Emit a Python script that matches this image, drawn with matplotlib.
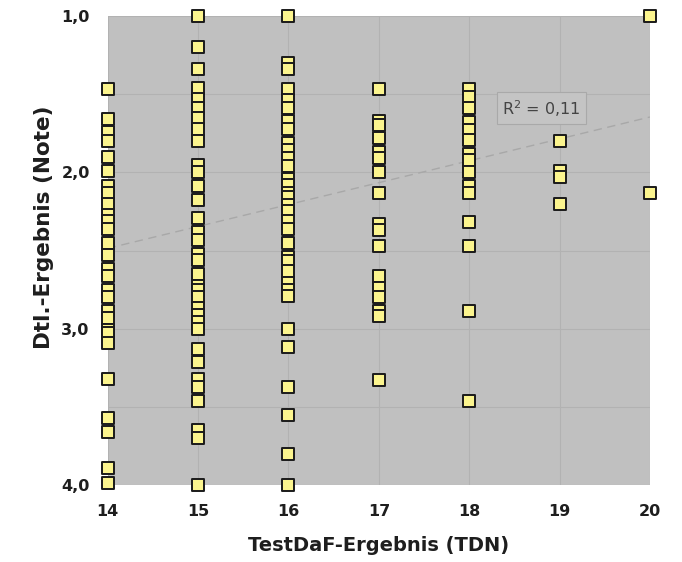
import numpy as np
import matplotlib
matplotlib.use("Agg")
import matplotlib.pyplot as plt

# TestDaF score (x) -> list of grades (y)
grades_14 = [1.47, 1.66, 1.74, 1.80, 1.90, 1.99, 2.09, 2.13, 2.20, 2.27, 2.31, 2.36,
             2.45, 2.53, 2.62, 2.66, 2.75, 2.80, 2.89, 2.93, 3.01, 3.03, 3.09,
             3.32, 3.57, 3.66, 3.89, 3.99]
grades_15 = [1.00, 1.20, 1.34, 1.46, 1.53, 1.59, 1.65, 1.72, 1.80,
             1.95, 2.00, 2.09, 2.18, 2.29, 2.38, 2.43, 2.52, 2.56, 2.65, 2.73, 2.75,
             2.80, 2.87, 2.91, 2.96, 3.00, 3.13, 3.21, 3.32, 3.37, 3.46, 3.65, 3.70, 4.00]
grades_16 = [1.00, 1.30, 1.34, 1.47, 1.54, 1.59, 1.67, 1.72, 1.81, 1.86, 1.91, 1.96,
             2.04, 2.08, 2.13, 2.16, 2.21, 2.25, 2.31, 2.36, 2.45, 2.54, 2.57, 2.63,
             2.71, 2.75, 2.79, 3.00, 3.12, 3.37, 3.55, 3.80, 4.00]
grades_17 = [1.47, 1.67, 1.70, 1.78, 1.87, 1.91, 2.00, 2.13, 2.33, 2.37, 2.47,
             2.66, 2.74, 2.80, 2.89, 2.92, 3.33]
grades_18 = [1.47, 1.52, 1.59, 1.68, 1.73, 1.79, 1.88, 1.92, 2.00, 2.09, 2.13,
             2.32, 2.47, 2.89, 3.46]
grades_19 = [1.80, 1.99, 2.03, 2.20]
grades_20 = [1.00, 2.13]

scores = [14, 15, 16, 17, 18, 19, 20]
groups = [grades_14, grades_15, grades_16, grades_17, grades_18, grades_19, grades_20]

# linear trend as shown in the chart (grade = intercept + slope * score)
trend_slope = -0.14
trend_intercept = 4.446

y_ticks = [1.0, 2.0, 3.0, 4.0]
y_tick_labels = ["1,0", "2,0", "3,0", "4,0"]
r2_label = "R$^{2}$ = 0,11"

x_vals = np.concatenate([[s] * len(g) for s, g in zip(scores, groups)]).astype(float)
y_vals = np.concatenate(groups)

fig = plt.figure(figsize=(6.82, 5.62), dpi=100)
ax = fig.add_axes([0.158, 0.137, 0.795, 0.8345])
ax.set_facecolor("#c0c0c0")
for s in ax.spines.values():
    s.set_visible(False)

ax.set_xlim(14, 20)
ax.set_ylim(4, 1)
ax.set_xticks(scores)
ax.set_yticks(y_ticks)
ax.set_yticklabels(y_tick_labels)
ax.set_yticks([1.5, 2.5, 3.5], minor=True)
ax.grid(True, which="both", color="#b2b2b2", linewidth=0.8)
ax.set_axisbelow(True)
ax.tick_params(axis="both", which="both", length=0, labelsize=11.5)
ax.tick_params(axis="y", pad=13)
ax.tick_params(axis="x", pad=14)
for lab in ax.get_xticklabels() + ax.get_yticklabels():
    lab.set_fontweight("bold")
    lab.set_color("#1e1e1e")

# trend line
xx = np.array([14, 20])
ax.plot(xx, trend_intercept + trend_slope * xx, linestyle=(0, (6, 4)), color="#a8a8a8",
        linewidth=1.0, zorder=2)

ax.scatter(x_vals, y_vals, marker="s", s=85, facecolor="#fbf48e", edgecolor="#1a1a1a",
           linewidths=1.4, zorder=3, clip_on=False)

ax.text(18.8, 1.59, r2_label, fontsize=11.5, color="#444444", ha="center", va="center",
        bbox=dict(boxstyle="square,pad=0.35", facecolor="#c4c4c4", edgecolor="#a9a9a9", linewidth=0.8),
        zorder=4)

ax.set_xlabel("TestDaF-Ergebnis (TDN)", fontsize=14, fontweight="bold", color="#1e1e1e", labelpad=12)
ax.set_ylabel("Dtl.-Ergebnis (Note)", fontsize=15.5, fontweight="bold", color="#1e1e1e", labelpad=6)
ax.yaxis.set_label_coords(-0.10, 0.55)

fig.savefig("out.png", dpi=100)
